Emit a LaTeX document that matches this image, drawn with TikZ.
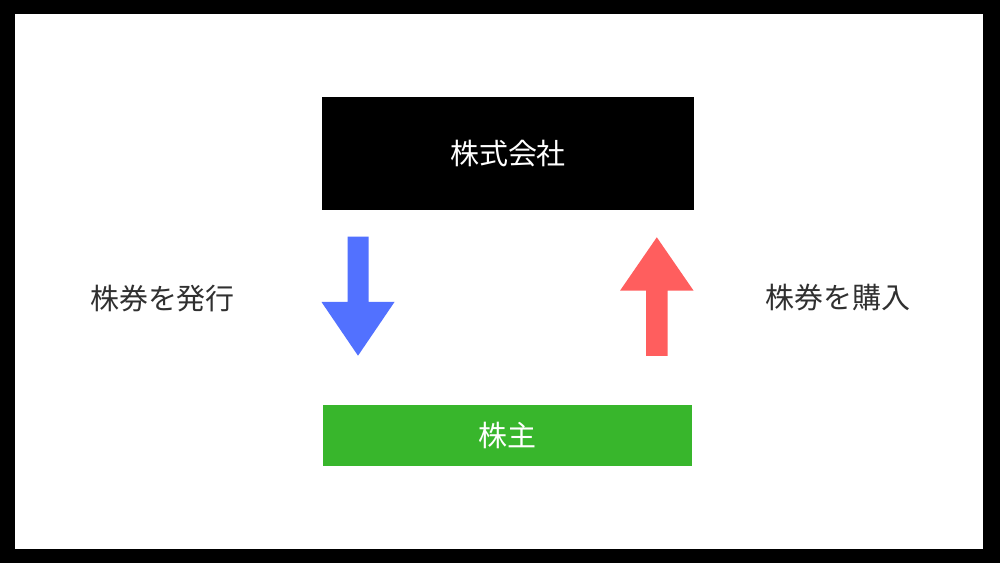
\documentclass[tikz,border=0pt]{standalone}
\usepackage{fontspec}
\usepackage{xcolor}
\usetikzlibrary{positioning}
\newfontfamily\cjk{Noto Sans CJK JP}
\definecolor{issueblue}{RGB}{82,113,255}
\definecolor{buyred}{RGB}{255,94,94}
\definecolor{holdgreen}{RGB}{56,182,44}
\definecolor{labelgray}{RGB}{48,48,48}

\begin{document}
\begin{tikzpicture}[x=0.02cm, y=-0.02cm, font=\cjk\fontsize{16.5pt}{20pt}\selectfont]
% frame
\fill[black] (0,0) rectangle (1000,563);
\fill[white] (15,14) rectangle (983,549);
\useasboundingbox (0,0) rectangle (1000,563);
% boxes
\node (corp) [fill=black, text=white, minimum width=7.43cm, minimum height=2.25cm, inner sep=0pt] at (508,153.7) {株式会社};
\node (holder) [fill=holdgreen, text=white, minimum width=7.38cm, minimum height=1.21cm, inner sep=0pt] at (507.8,435.3) {株主};
% block arrows
\fill[issueblue] (347.5,236.7) -- (368.5,236.7) -- (368.5,302) -- (394.5,302) -- (358,355.7) -- (321.5,302) -- (347.5,302) -- cycle;
\fill[buyred] (667.5,356) -- (646.1,356) -- (646.1,290.7) -- (620,290.7) -- (656.8,237.3) -- (693.6,290.7) -- (667.5,290.7) -- cycle;
% labels
\node (issue) [text=labelgray] at (162.5,299) {株券を発行};
\node (buy) [text=labelgray] at (838,297.5) {株券を購入};
\end{tikzpicture}
\end{document}
